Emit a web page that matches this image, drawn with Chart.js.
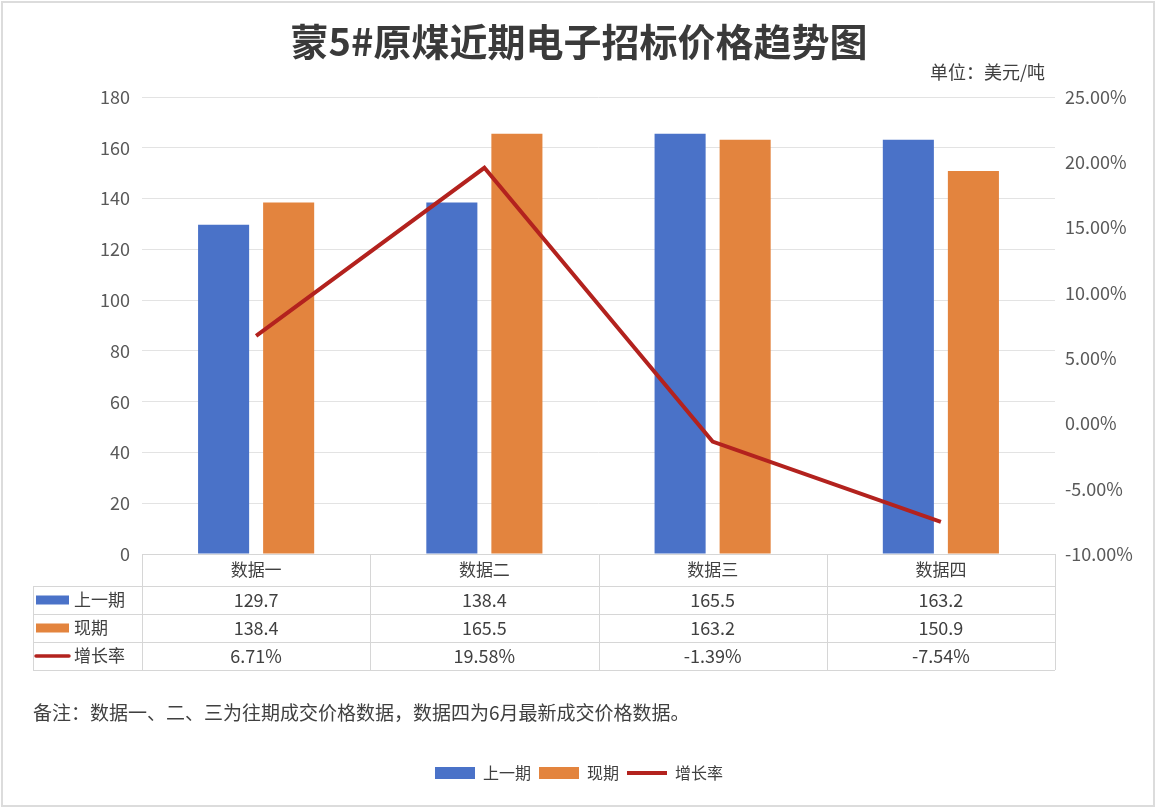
<!DOCTYPE html>
<html>
<head>
<meta charset="utf-8">
<script src="https://cdn.jsdelivr.net/npm/chart.js@4.4.1/dist/chart.umd.min.js"></script>
<style>
  html, body { margin: 0; padding: 0; background: #ffffff; }
  #wrap { width: 1158px; height: 810px; position: relative; }
</style>
</head>
<body>
<div id="wrap"><canvas id="c" width="1158" height="810"></canvas></div>
<script>
const categories = ['数据一', '数据二', '数据三', '数据四'];
const prevPeriod = [129.7, 138.4, 165.5, 163.2];
const currPeriod = [138.4, 165.5, 163.2, 150.9];
const growthRate = [6.71, 19.58, -1.39, -7.54];
const seriesNames = ['上一期', '现期', '增长率'];
const titleText = '蒙5#原煤近期电子招标价格趋势图';
const unitText = '单位：美元/吨';
const noteText = '备注：数据一、二、三为往期成交价格数据，数据四为6月最新成交价格数据。';

const FONT = "'Noto Sans CJK SC', 'Noto Sans', sans-serif";
const BLUE = '#4A72C8';
const ORANGE = '#E3843E';
const RED = '#B3221E';
const TEXT = '#404040';
const TICK = '#595959';
const GRID = '#e3e3e3';
const TABLE = '#d6d6d6';

const extrasPlugin = {
  id: 'extras',
  afterDraw(chart) {
    const ctx = chart.ctx;
    const area = chart.chartArea;
    const xs = chart.scales.x;
    ctx.save();
    // outer frame
    ctx.strokeStyle = '#dcdcdc';
    ctx.lineWidth = 2;
    ctx.strokeRect(2, 2, 1152, 804);

    // unit label
    ctx.fillStyle = TEXT;
    ctx.font = '18px ' + FONT;
    ctx.textAlign = 'right';
    ctx.textBaseline = 'middle';
    ctx.fillText(unitText, 1045, 72);

    // data table
    const n = categories.length;
    const half = (xs.getPixelForValue(1) - xs.getPixelForValue(0)) / 2;
    const bounds = [];
    for (let i = 0; i < n; i++) bounds.push(xs.getPixelForValue(i) - half);
    bounds.push(xs.getPixelForValue(n - 1) + half);
    const top = area.bottom;
    const rowH = 28;
    const headH = 32;
    const tableLeft = 33;
    const rowYs = [top + headH, top + headH + rowH, top + headH + 2 * rowH, top + headH + 3 * rowH];
    const bottom = rowYs[3];

    ctx.strokeStyle = TABLE;
    ctx.lineWidth = 1;
    ctx.beginPath();
    ctx.moveTo(bounds[0], top + 0.5); ctx.lineTo(bounds[n], top + 0.5);
    rowYs.forEach(y => { ctx.moveTo(tableLeft, Math.round(y) + 0.5); ctx.lineTo(bounds[n], Math.round(y) + 0.5); });
    bounds.forEach(x => { ctx.moveTo(Math.round(x) + 0.5, top); ctx.lineTo(Math.round(x) + 0.5, bottom); });
    ctx.moveTo(tableLeft + 0.5, rowYs[0]); ctx.lineTo(tableLeft + 0.5, bottom);
    ctx.stroke();

    ctx.textAlign = 'center';
    ctx.textBaseline = 'middle';
    ctx.fillStyle = TEXT;
    ctx.font = '17px ' + FONT;
    categories.forEach((c, i) => ctx.fillText(c, (bounds[i] + bounds[i + 1]) / 2, top + headH / 2));

    const rows = [
      prevPeriod.map(v => v.toFixed(1)),
      currPeriod.map(v => v.toFixed(1)),
      growthRate.map(v => v.toFixed(2) + '%')
    ];
    ctx.font = '18px ' + FONT;
    rows.forEach((r, ri) => {
      const cy = rowYs[ri] + rowH / 2;
      r.forEach((t, i) => ctx.fillText(t, (bounds[i] + bounds[i + 1]) / 2, cy));
    });

    // row labels with swatches
    ctx.textAlign = 'left';
    ctx.font = '17px ' + FONT;
    const swX = 36, swW = 33;
    [BLUE, ORANGE].forEach((col, ri) => {
      const cy = rowYs[ri] + rowH / 2;
      ctx.fillStyle = col;
      ctx.fillRect(swX, cy - 4.5, swW, 9);
      ctx.fillStyle = TEXT;
      ctx.fillText(seriesNames[ri], 74, cy);
    });
    {
      const cy = rowYs[2] + rowH / 2;
      ctx.strokeStyle = RED;
      ctx.lineWidth = 3.5;
      ctx.lineCap = 'round';
      ctx.beginPath();
      ctx.moveTo(swX, cy); ctx.lineTo(swX + swW, cy);
      ctx.stroke();
      ctx.fillStyle = TEXT;
      ctx.fillText(seriesNames[2], 74, cy);
    }

    // note
    ctx.font = '19px ' + FONT;
    ctx.fillStyle = TEXT;
    ctx.textAlign = 'left';
    ctx.fillText(noteText, 33, 713);
    ctx.restore();
  }
};

new Chart(document.getElementById('c'), {
  data: {
    labels: categories,
    datasets: [
      { type: 'line', label: seriesNames[2], data: growthRate, yAxisID: 'y1',
        borderColor: RED, backgroundColor: RED, borderWidth: 4, pointRadius: 0,
        tension: 0, order: 0, borderJoinStyle: 'miter' },
      { type: 'bar', label: seriesNames[0], data: prevPeriod, yAxisID: 'y',
        backgroundColor: BLUE, borderWidth: 0, barPercentage: 0.785, categoryPercentage: 0.57, order: 1 },
      { type: 'bar', label: seriesNames[1], data: currPeriod, yAxisID: 'y',
        backgroundColor: ORANGE, borderWidth: 0, barPercentage: 0.785, categoryPercentage: 0.57, order: 1 }
    ]
  },
  options: {
    responsive: false,
    animation: false,
    devicePixelRatio: 1,
    layout: { padding: { left: 0, right: 0, top: 0, bottom: 19 } },
    scales: {
      x: {
        offset: true,
        grid: { display: false },
        border: { display: false },
        ticks: { display: false },
        afterFit: s => { s.height = 203; }
      },
      y: {
        position: 'left',
        min: 0, max: 180,
        ticks: { stepSize: 20, color: TICK, padding: 12, font: { family: FONT, size: 18 } },
        grid: { color: GRID, drawTicks: false },
        border: { display: false },
        afterFit: s => { s.width = 142; }
      },
      y1: {
        position: 'right',
        min: -10, max: 25,
        ticks: { stepSize: 5, color: TICK, padding: 10, font: { family: FONT, size: 18 },
          callback: v => Number(v).toFixed(2) + '%' },
        grid: { display: false, drawTicks: false },
        border: { display: false },
        afterFit: s => { s.width = 103; }
      }
    },
    plugins: {
      tooltip: { enabled: false },
      title: {
        display: true,
        text: titleText,
        color: '#3a3a3a',
        font: { family: FONT, size: 38, weight: 'bold', lineHeight: 1 },
        padding: { top: 23, bottom: 36 }
      },
      legend: {
        position: 'bottom',
        labels: {
          font: { family: FONT, size: 16 },
          color: TEXT,
          padding: 8,
          usePointStyle: true,
          pointStyleWidth: 40,
          boxHeight: 12,
          generateLabels: chart => {
            const ds = chart.data.datasets;
            return [
              { text: ds[1].label, fillStyle: BLUE, strokeStyle: BLUE, lineWidth: 0, pointStyle: 'rect', datasetIndex: 1, fontColor: TEXT },
              { text: ds[2].label, fillStyle: ORANGE, strokeStyle: ORANGE, lineWidth: 0, pointStyle: 'rect', datasetIndex: 2, fontColor: TEXT },
              { text: ds[0].label, fillStyle: RED, strokeStyle: RED, lineWidth: 4, pointStyle: 'line', datasetIndex: 0, fontColor: TEXT }
            ];
          }
        }
      }
    }
  },
  plugins: [extrasPlugin]
});
</script>
</body>
</html>
